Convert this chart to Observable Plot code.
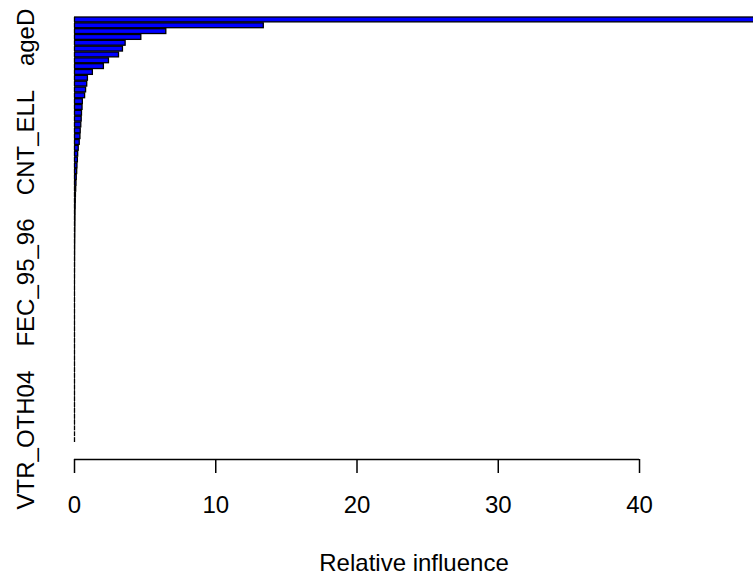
<!DOCTYPE html>
<html><head><meta charset="utf-8">
<script src="https://cdn.jsdelivr.net/npm/d3@7"></script>
<script src="https://cdn.jsdelivr.net/npm/@observablehq/plot@0.6"></script>
<style>body{margin:0;background:#fff}</style>
</head><body><div id="chart"></div>
<script>
// Relative influence, from the top bar to the bottom bar
const relInf = [
  50, 13.4, 6.5, 4.73, 3.62, 3.43, 3.15, 2.44, 2.08, 1.30,
  0.95, 0.90, 0.82, 0.75, 0.59, 0.57, 0.53, 0.51, 0.48, 0.44,
  0.42, 0.37, 0.30, 0.26, 0.24, 0.21, 0.19, 0.16, 0.14, 0.12,
  0.10, 0.09, 0.08, 0.07, 0.065, 0.06, 0.055, 0.05, 0.045, 0.04,
  0.038, 0.035, 0.032, 0.03, 0.028, 0.026, 0.024, 0.022, 0.02, 0.019,
  0.018, 0.016, 0.015, 0.014, 0.013, 0.012, 0.011, 0.010, 0.009, 0.008,
  0.007, 0.006, 0.005, 0.004, 0.003, 0.002, 0.002, 0.001, 0.001, 0.001,
  0, 0, 0
];
// visible variable names and their rank (1 = top bar)
const labelNames = ["ageD", "CNT_ELL", "FEC_95_96", "VTR_OTH04"];
const labelRanks = [4, 22, 46, 73];
const xTicks = [0, 10, 20, 30, 40];
const xTitle = "Relative influence";

const n = relInf.length;
const bars = relInf.map((v, j) => { const i = n - j; return {v, y1: 0.2 + 1.2 * (i - 1), y2: 1.2 * i}; });
const span = 1.2 * n - 0.2;
const yDom = [0.2 - 0.04 * span, 1.2 * n + 0.04 * span];
const labels = labelNames.map((name, k) => { const i = n - labelRanks[k] + 1; return {name, y: 1.2 * i - 0.5}; });

const font = "'Liberation Sans', Arial, Helvetica, sans-serif";
const chart = Plot.plot({
  width: 753, height: 574,
  marginLeft: 74, marginRight: 0, marginTop: 0, marginBottom: 115,
  style: {fontFamily: font, fontSize: "24px", background: "white", color: "black"},
  x: {domain: [0, 48.07], label: null},
  y: {domain: yDom, axis: null},
  marks: [
    Plot.rectX(bars, {x1: 0, x2: "v", y1: "y1", y2: "y2", fill: "#0000ff", stroke: "black", strokeWidth: 1.3, clip: true}),
    Plot.ruleX(bars, {x: 0, y1: "y1", y2: "y2", stroke: "black", strokeWidth: 1.3}),
    Plot.ruleY([yDom[0]], {x1: d3.min(xTicks), x2: d3.max(xTicks), stroke: "black", strokeWidth: 1.5}),
    Plot.axisX(xTicks, {tickSize: 14, tickPadding: 22, fontSize: 24, strokeWidth: 1.5, label: null}),
    Plot.text(labels, {y: "y", text: "name", rotate: -90, frameAnchor: "left", dx: -41, lineAnchor: "bottom", textAnchor: "middle", fontSize: 24}),
    Plot.text([xTitle], {frameAnchor: "bottom", dy: 111, lineAnchor: "bottom", fontSize: 24})
  ]
});
document.getElementById("chart").appendChild(chart);
</script>
</body></html>
